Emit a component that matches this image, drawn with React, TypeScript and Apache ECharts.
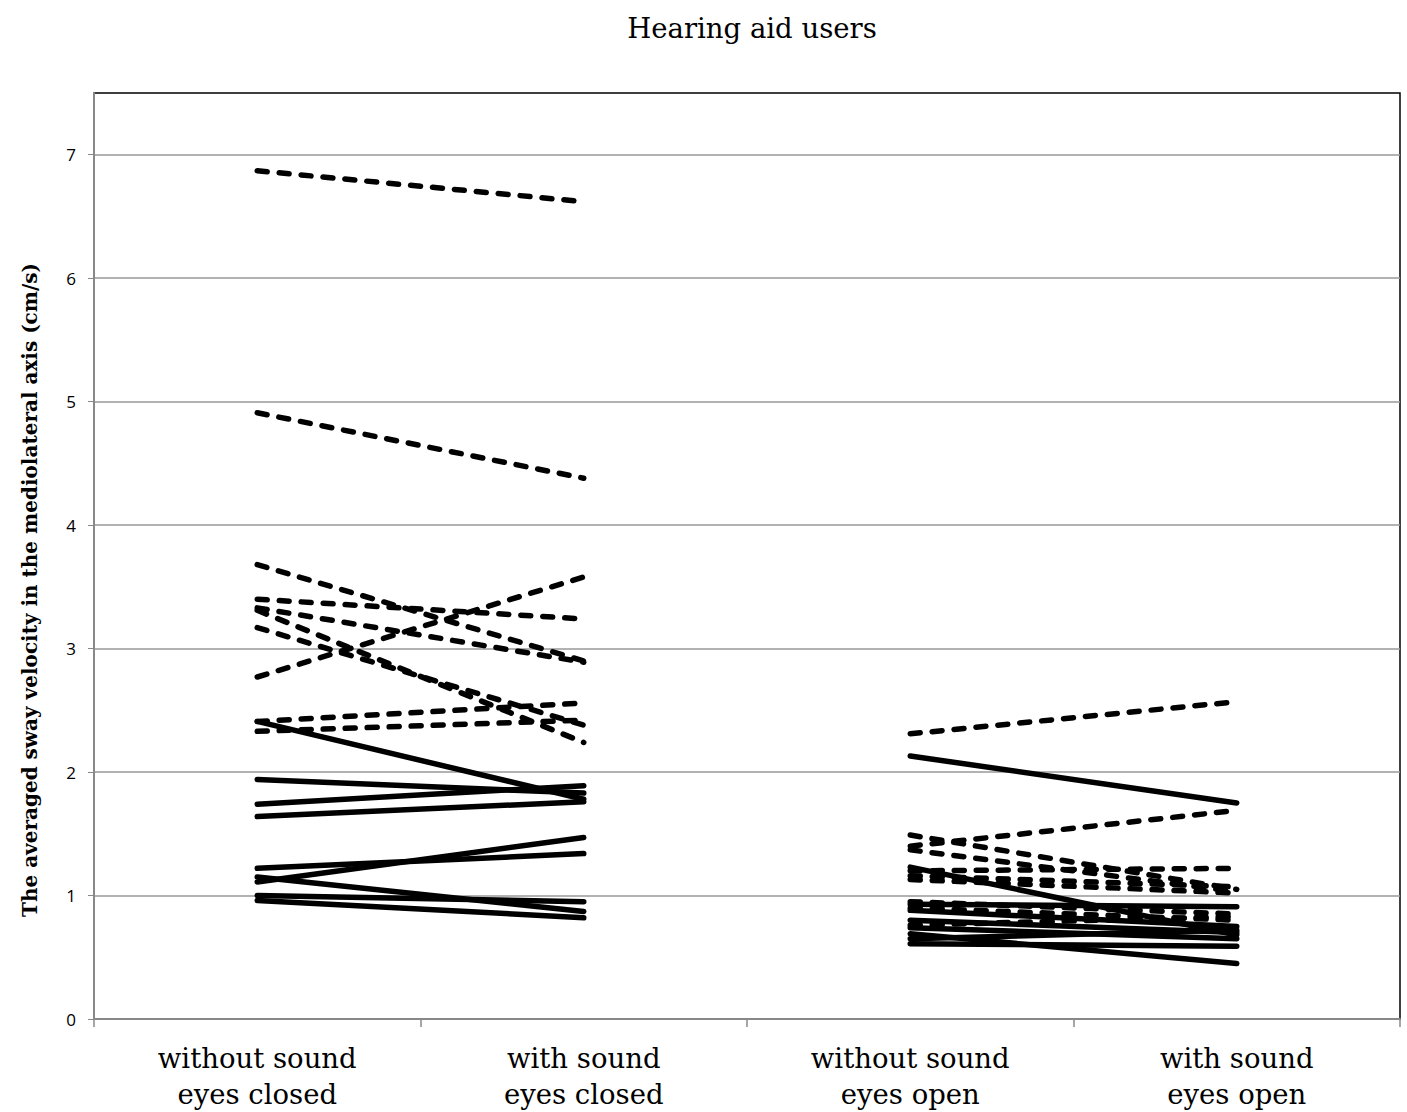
import React, { useEffect, useRef } from "react";
import * as echarts from "echarts";

const categories = [
  "without sound\neyes closed",
  "with sound\neyes closed",
  "without sound\neyes open",
  "with sound\neyes open",
];
const yTicks = [0, 1, 2, 3, 4, 5, 6, 7];

const closedDashedWithout = [6.87, 4.91, 3.68, 3.4, 3.33, 3.31, 3.17, 2.77, 2.41, 2.33];
const closedDashedWith = [6.62, 4.38, 2.9, 3.24, 2.89, 2.24, 2.38, 3.58, 2.56, 2.42];
const closedSolidWithout = [2.41, 1.94, 1.74, 1.64, 1.22, 1.15, 1.11, 1.0, 0.96];
const closedSolidWith = [1.78, 1.83, 1.89, 1.76, 1.34, 0.87, 1.47, 0.95, 0.82];
const openDashedWithout = [2.31, 1.49, 1.4, 1.37, 1.2, 1.16, 1.13, 0.95, 0.9, 0.76];
const openDashedWith = [2.57, 1.05, 1.69, 1.03, 1.22, 1.07, 1.02, 0.85, 0.8, 0.83];
const openSolidWithout = [2.13, 1.23, 0.93, 0.88, 0.8, 0.74, 0.69, 0.65, 0.61];
const openSolidWith = [1.75, 0.68, 0.91, 0.75, 0.7, 0.65, 0.45, 0.72, 0.59];

const SERIF = "'DejaVu Serif', 'Liberation Serif', serif";

function makeSeries(a: number[], b: number[], first: boolean, dashed: boolean) {
  return a.map((v, i) => ({
    type: "line",
    symbol: "none",
    silent: true,
    z: 3,
    data: first ? [v, b[i], "-", "-"] : ["-", "-", v, b[i]],
    lineStyle: {
      color: "#000",
      width: 5.5,
      type: dashed ? [10, 12] : "solid",
      cap: "round",
    },
  }));
}

export default function App() {
  const ref = useRef<HTMLDivElement>(null);
  useEffect(() => {
    const chart = echarts.init(ref.current!, null, { renderer: "svg" });
    const series = [
      ...makeSeries(closedDashedWithout, closedDashedWith, true, true),
      ...makeSeries(closedSolidWithout, closedSolidWith, true, false),
      ...makeSeries(openDashedWithout, openDashedWith, false, true),
      ...makeSeries(openSolidWithout, openSolidWith, false, false),
    ];
    chart.setOption({
      animation: false,
      backgroundColor: "#fff",
      title: {
        text: "Hearing aid users",
        left: 747,
        top: 9,
        textAlign: "center",
        textStyle: { fontFamily: SERIF, fontWeight: "normal", fontSize: 27.5, color: "#000" },
      },
      grid: {
        left: 94,
        right: 7,
        top: 93,
        bottom: 93,
        show: true,
        borderColor: "#000",
        borderWidth: 1.5,
      },
      xAxis: {
        type: "category",
        data: categories,
        boundaryGap: true,
        axisLine: { lineStyle: { color: "#888", width: 2 } },
        axisTick: { show: true, length: 8, lineStyle: { color: "#888", width: 1.5 } },
        axisLabel: {
          interval: 0,
          margin: 21,
          fontFamily: SERIF,
          fontSize: 27.5,
          lineHeight: 36,
          color: "#000",
        },
      },
      yAxis: {
        type: "value",
        min: 0,
        max: 7.5,
        interval: 1,
        axisLine: { show: true, lineStyle: { color: "#888", width: 2 } },
        axisTick: { show: true, length: 6, lineStyle: { color: "#888" } },
        axisLabel: {
          showMaxLabel: false,
          margin: 18,
          fontFamily: "'Open Sans', 'Liberation Sans', sans-serif",
          fontSize: 17,
          color: "#000",
          formatter: (v: number) => (yTicks.includes(v) ? String(v) : ""),
        },
        splitLine: { show: true, showMaxLine: false, lineStyle: { color: "#999", width: 1.5 } },
      },
      graphic: [
        {
          type: "text",
          x: 30,
          y: 590,
          rotation: Math.PI / 2,
          style: {
            text: "The averaged sway velocity in the mediolateral axis (cm/s)",
            fontFamily: SERIF,
            fontWeight: "bold",
            fontSize: 20,
            fill: "#000",
            align: "center",
            verticalAlign: "middle",
          },
        },
      ],
      series,
    });
    return () => chart.dispose();
  }, []);
  return (
    <div
      ref={ref}
      style={{ position: "absolute", left: 0, top: 0, width: 1407, height: 1112 }}
    />
  );
}
